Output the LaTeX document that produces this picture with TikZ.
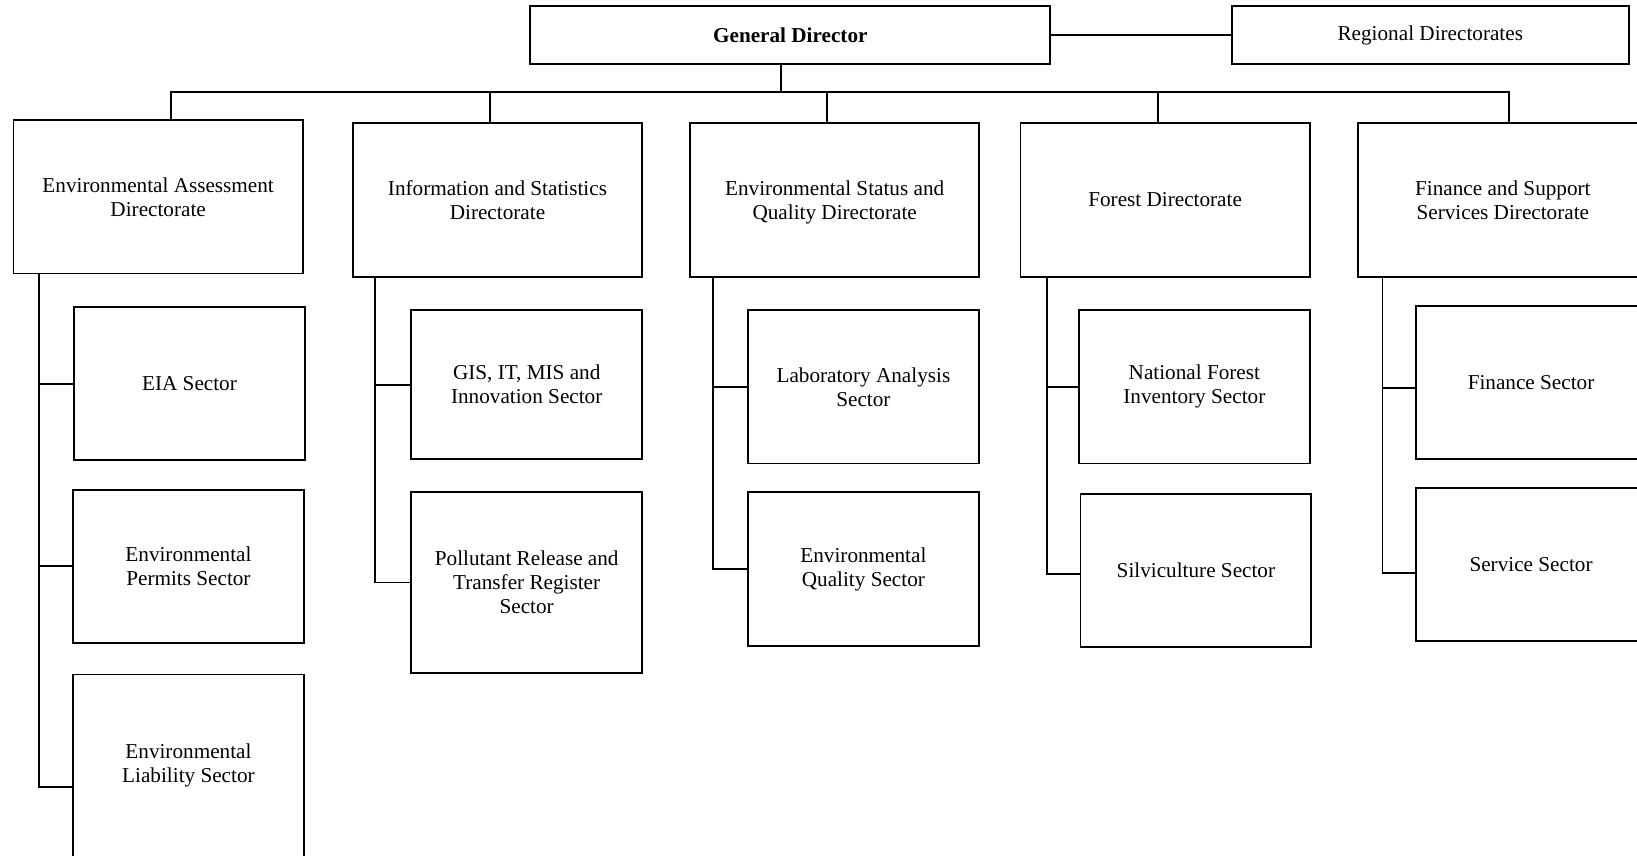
\documentclass[tikz,border=0pt]{standalone}
\usepackage{fontspec}
\setmainfont{Liberation Serif}
\usetikzlibrary{positioning,calc}

\begin{document}
\begin{tikzpicture}[x=0.522pt,y=-0.522pt,
    box/.style={draw,line width=0.9pt,align=center,inner sep=0pt,font=\fontsize{10.6}{12}\selectfont},
    topbox/.style={box,minimum height=28.7pt},
    dirbox/.style={box,minimum width=144.6pt,minimum height=76.7pt},
    secbox/.style={box,minimum width=115.4pt,minimum height=76.7pt},
    link/.style={line width=0.9pt}]
        \clip (0,0) rectangle (1568,819.6);
        \node[topbox,minimum width=260pt] (gd) at (757,33.5){\textbf{General Director}};
        \node[topbox,minimum width=198.4pt] (rd) at (1370,33.5){Regional Directorates};
        \coordinate (bus) at (748,88);
        \node[dirbox] (ea) at (151.5,188.5){Environmental Assessment\\Directorate};
        \node[dirbox] (is) at (476.5,191.5){Information and Statistics\\Directorate};
        \node[dirbox,text depth=0pt] (es) at (799.5,191.5){Environmental Status and\\Quality Directorate};
        \node[dirbox] (fd) at (1116,191.5){Forest Directorate};
        \node[dirbox] (fs) at (1439.5,191.5){Finance and Support\\Services Directorate};
        \node[secbox] (eia) at (181.5,367.5){EIA Sector};
        \node[secbox] (permit) at (180.5,542.5){Environmental\\Permits Sector};
        \node[secbox,minimum height=91.35pt] (liab) at (180.5,733.5){Environmental\\Liability Sector};
        \node[secbox,minimum height=74.6pt] (gis) at (504.5,368.5){GIS, IT, MIS and\\Innovation Sector};
        \node[secbox,minimum height=90.8pt] (prtr) at (504.5,558){Pollutant Release and\\Transfer Register\\Sector};
        \node[secbox] (lab) at (827,370.5){Laboratory Analysis\\Sector};
        \node[secbox] (eqs) at (827,545){Environmental\\Quality Sector};
        \node[secbox] (nfi) at (1144,370.5){National Forest\\Inventory Sector};
        \node[secbox] (silv) at (1145.5,546.5){Silviculture Sector};
        \node[secbox] (fin) at (1466.5,366.5){Finance Sector};
        \node[secbox] (serv) at (1466.5,540.5){Service Sector};
        \draw[link] (gd.east) -- (rd.west);
        \draw[link] (gd.south -| bus) -- (bus);
        \draw[link] ($(ea.north)+(12.5,0)$) |- (bus) -| ($(fs.north)+(5.5,0)$);
        \draw[link] ($(is.north)+(-7.5,0)$) |- (bus);
        \draw[link] ($(es.north)+(-7.5,0)$) |- (bus);
        \draw[link] ($(fd.north)+(-7,0)$) |- (bus);
        \coordinate (sa) at ($(ea.south west)+(25,0)$);
        \coordinate (sb) at ($(is.south west)+(22,0)$);
        \coordinate (sc) at ($(es.south west)+(23,0)$);
        \coordinate (sd) at ($(fd.south west)+(26,0)$);
        \coordinate (se) at ($(fs.south west)+(24,0)$);
        \draw[link] (sa) |- ($(liab.west)+(0,20)$);
        \draw[link] (eia.west) -- (eia.west -| sa);
        \draw[link] (permit.west) -- (permit.west -| sa);
        \draw[link] (sb) |- (prtr.west);
        \draw[link] (gis.west) -- (gis.west -| sb);
        \draw[link] (sc) |- (eqs.west);
        \draw[link] (lab.west) -- (lab.west -| sc);
        \draw[link] (sd) |- ($(silv.west)+(0,3.5)$);
        \draw[link] (nfi.west) -- (nfi.west -| sd);
        \draw[link] (se) |- ($(serv.west)+(0,8.5)$);
        \draw[link] ($(fin.west)+(0,5.5)$) -- ($(fin.west -| se)+(0,5.5)$);
      \end{tikzpicture}
\end{document}
